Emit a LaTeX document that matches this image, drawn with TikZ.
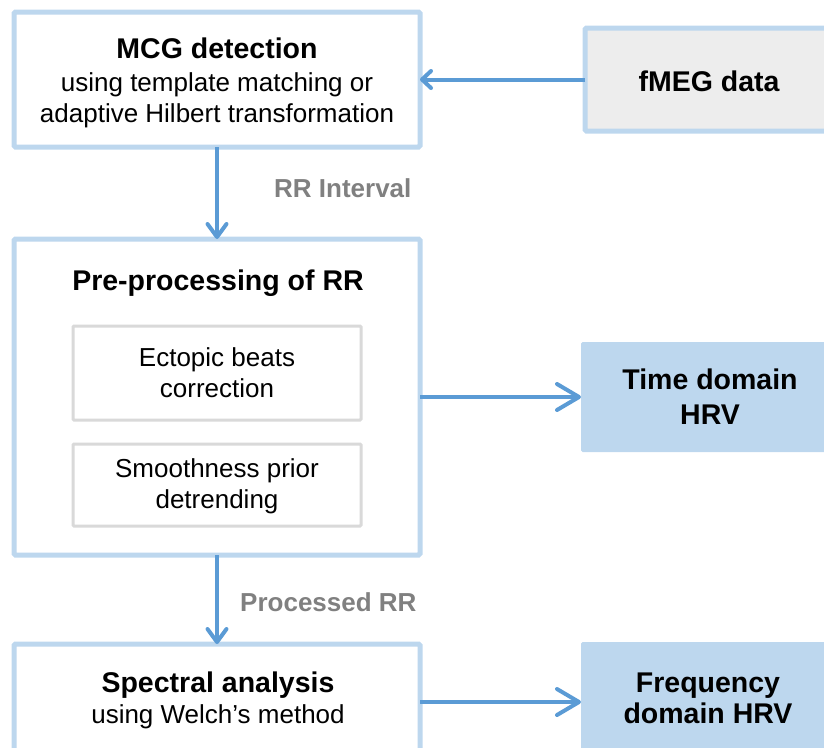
\documentclass[tikz,border=0pt]{standalone}
\usepackage{fontspec}
\setmainfont{Liberation Sans}
\usetikzlibrary{arrows.meta}
\definecolor{bordblue}{HTML}{BDD7EE}
\definecolor{arrblue}{HTML}{5B9BD5}
\definecolor{innergray}{HTML}{D9D9D9}
\definecolor{labgray}{HTML}{808080}
\definecolor{datagray}{HTML}{EDEDED}
\tikzset{
  mainbox/.style={draw=bordblue, line width=5pt, fill=white, rounded corners=1.5pt, inner sep=0pt, outer sep=0pt},
  subbox/.style={draw=innergray, line width=3pt, fill=white, rounded corners=1pt, inner sep=0pt, outer sep=0pt},
  databox/.style={draw=bordblue, line width=5pt, fill=datagray, rounded corners=1.5pt, inner sep=0pt, outer sep=0pt},
  outbox/.style={fill=bordblue, rounded corners=1.5pt, inner sep=0pt, outer sep=0pt},
  ttl/.style={anchor=base, inner sep=0pt, font=\fontsize{28.5}{33}\selectfont\bfseries},
  sub/.style={anchor=base, inner sep=0pt, font=\fontsize{26}{31}\selectfont},
  lab/.style={anchor=base west, inner sep=0pt, text=labgray, font=\fontsize{26}{31}\selectfont\bfseries},
  flow/.style={draw=arrblue, line width=4pt},
}
\begin{document}
\begin{tikzpicture}[x=1pt,y=-1pt]
\useasboundingbox (0,0) rectangle (824,747);
\clip (0,0) rectangle (824,747);
% boxes
\node[mainbox, minimum width=406pt, minimum height=135pt] (mcg) at (217,79.5) {};
\node[databox, minimum width=256pt, minimum height=103pt] (fmeg) at (713,79.5) {};
\node[mainbox, minimum width=406pt, minimum height=316pt] (pre) at (217,397) {};
\node[subbox, minimum width=288pt, minimum height=94pt] (ect) at (217,373) {};
\node[subbox, minimum width=288pt, minimum height=82pt] (smo) at (217,485) {};
\node[outbox, minimum width=262pt, minimum height=110pt] (time) at (712,397) {};
\node[mainbox, minimum width=406pt, minimum height=140pt] (spec) at (217,714) {};
\node[outbox, minimum width=262pt, minimum height=120pt] (freq) at (712,702) {};
% texts
\node[ttl] (t1) at (217,58) {MCG detection};
\node[sub] (t1a) at (217,91) {using template matching or};
\node[sub] (t1b) at (217,122) {adaptive Hilbert transformation};
\node[ttl] (t2) at (709,91) {fMEG data};
\node[lab] (l1) at (274,197) {RR Interval};
\node[ttl] (t3) at (218,290) {Pre-processing of RR};
\node[sub] (t4a) at (217,366) {Ectopic beats};
\node[sub] (t4b) at (217,397) {correction};
\node[sub] (t5a) at (217,477) {Smoothness prior};
\node[sub] (t5b) at (217,508) {detrending};
\node[ttl] (t6a) at (710,389) {Time domain};
\node[ttl] (t6b) at (710,424) {HRV};
\node[lab] (l2) at (240,611) {Processed RR};
\node[ttl] (t7) at (218,692) {Spectral analysis};
\node[sub] (t7a) at (218,723) {using Welch's method};
\node[ttl] (t8a) at (708,692) {Frequency};
\node[ttl] (t8b) at (708,723) {domain HRV};
% connectors
\draw[flow, -{Straight Barb[length=9pt, width=17pt, line cap=round, line join=round]}] (fmeg.west) -- (mcg.east);
\draw[flow, -{Straight Barb[length=13pt, width=19pt, line cap=round, line join=round]}] (mcg.south) -- (pre.north);
\draw[flow, -{Straight Barb[length=13pt, width=19pt, line cap=round, line join=round]}] (pre.south) -- (spec.north);
\draw[flow, -{Straight Barb[length=22pt, width=26pt, line cap=round, line join=round]}] (pre.east) -- (time.west);
\draw[flow, -{Straight Barb[length=22pt, width=26pt, line cap=round, line join=round]}] (spec.east |- freq.west) -- (freq.west);
\end{tikzpicture}
\end{document}
